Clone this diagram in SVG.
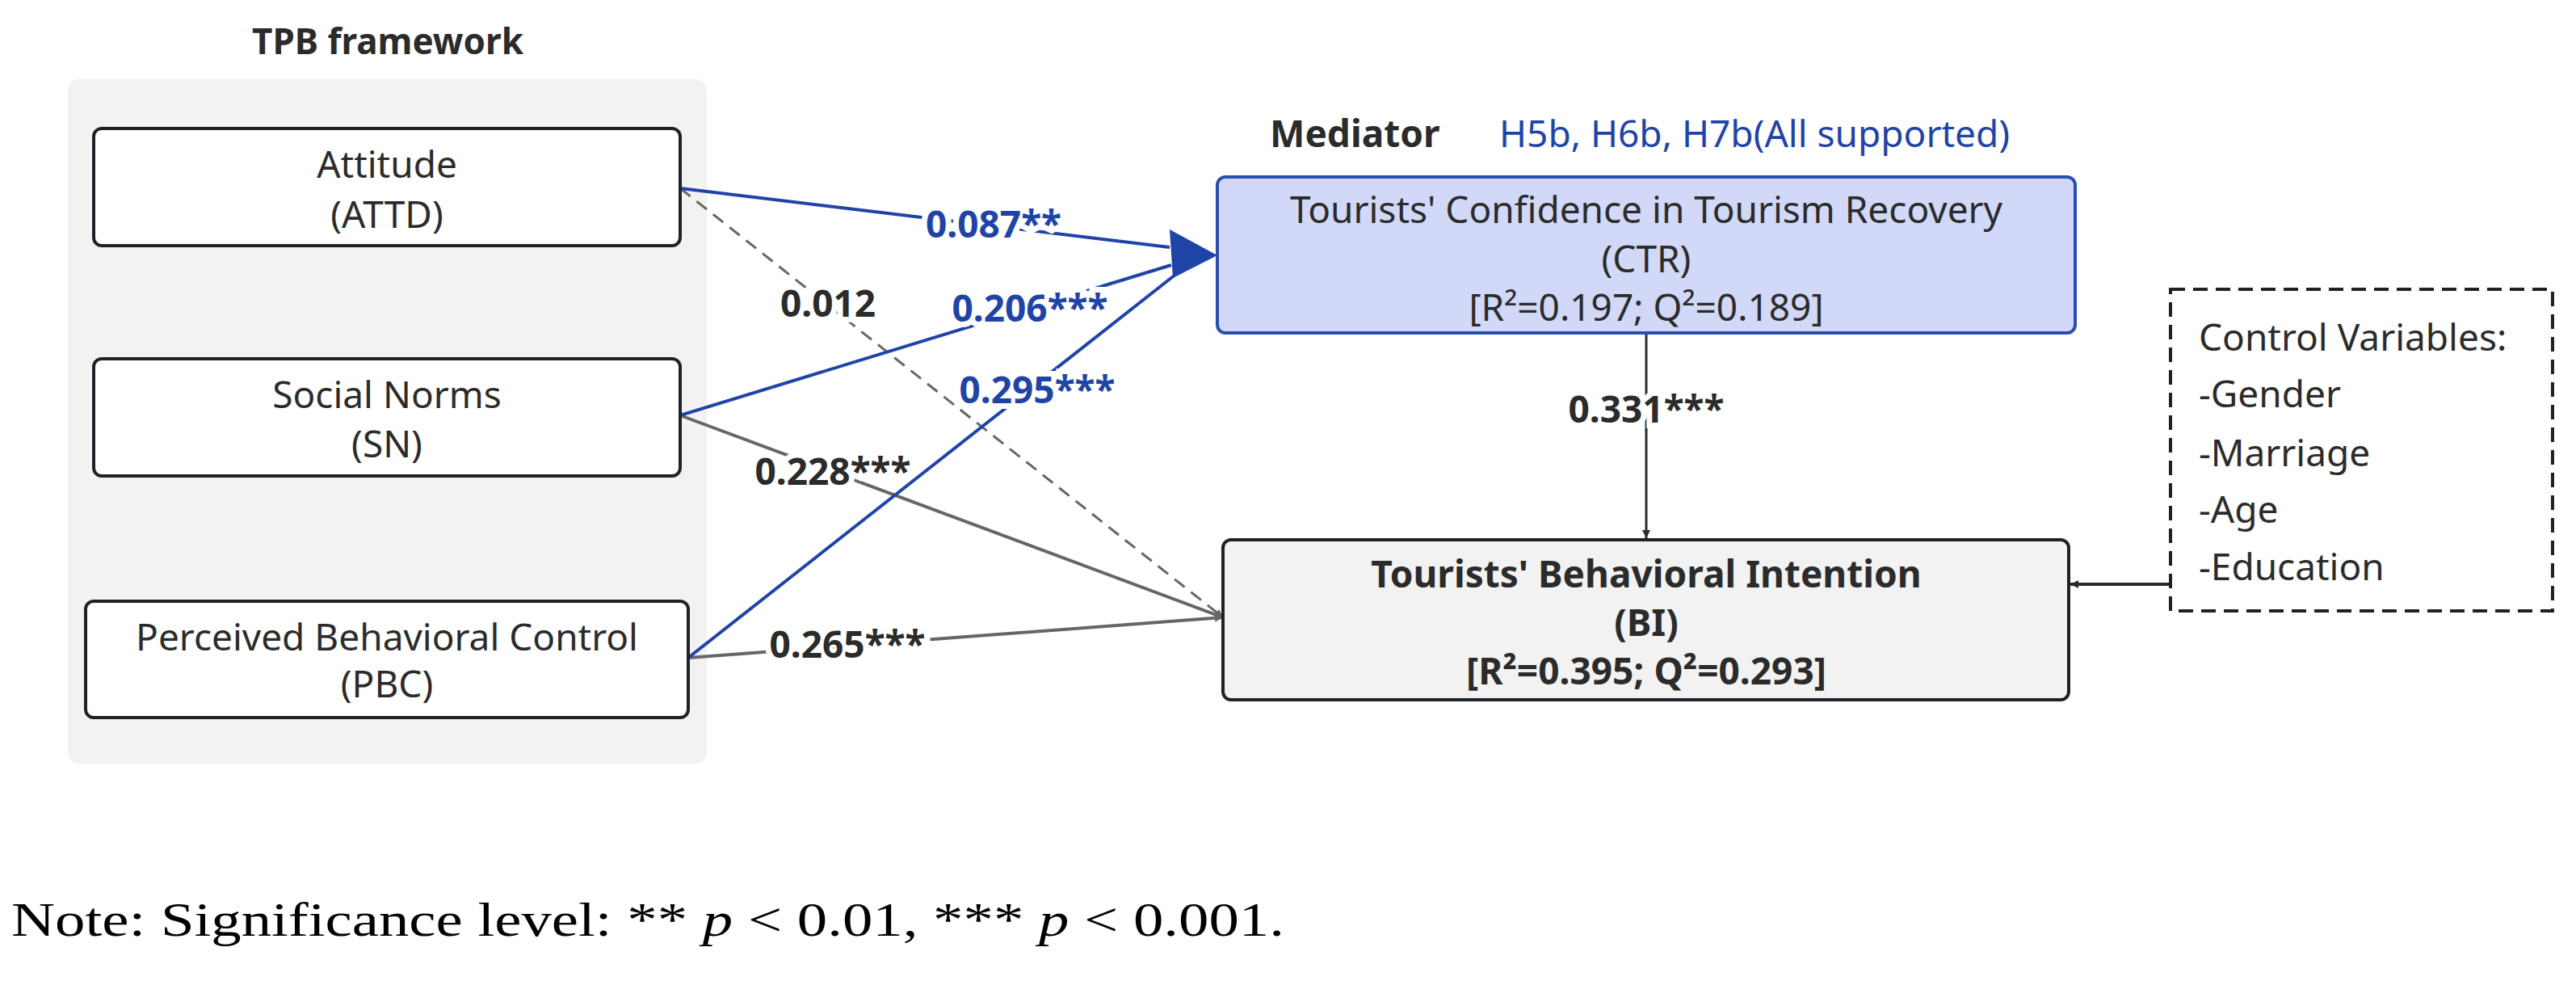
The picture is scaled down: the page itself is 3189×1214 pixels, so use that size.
<svg xmlns="http://www.w3.org/2000/svg" width="3189" height="1214" viewBox="0 0 3189 1214">
<defs>
<style>
text{font-family:"Noto Sans","Open Sans",sans-serif;fill:#2b2b2b}
.n{font-size:46px;text-anchor:middle}
.b{font-weight:bold}
.lab{font-size:46px;font-weight:bold;text-anchor:middle;stroke:#fff;stroke-width:14;paint-order:stroke}
.blue{fill:#1f44a8}
.box{fill:#fff;stroke:#1e2228;stroke-width:4}
</style>
<marker id="ab" viewBox="0 0 10 10" refX="10" refY="5" markerWidth="6" markerHeight="6" markerUnits="userSpaceOnUse" orient="auto"><path d="M0,0L10,5L0,10z" fill="#1f44a8"/></marker>
<marker id="ag" viewBox="0 0 10 10" refX="10" refY="5" markerWidth="10" markerHeight="10" orient="auto" markerUnits="userSpaceOnUse"><path d="M0,0L10,5L0,10z" fill="#666"/></marker>
<marker id="ak" viewBox="0 0 10 10" refX="10" refY="5" markerWidth="10" markerHeight="10" orient="auto" markerUnits="userSpaceOnUse"><path d="M0,0L10,5L0,10z" fill="#2b2b2b"/></marker>
</defs>
<rect x="0" y="0" width="3189" height="1214" fill="#fff"/>
<g id="panel">
<rect x="84" y="98" width="791" height="847" rx="14" fill="#f2f2f2"/>
<text x="480" y="67" class="b" style="font-size:44px;text-anchor:middle">TPB framework</text>
</g>
<g id="connectors">
<line x1="842" y1="233" x2="1514" y2="764" stroke="#666" stroke-width="3" stroke-dasharray="16,10" marker-end="url(#ag)"/>
<line x1="842" y1="514" x2="1514" y2="764" stroke="#666" stroke-width="4" marker-end="url(#ag)"/>
<line x1="852" y1="814" x2="1514" y2="764" stroke="#666" stroke-width="4" marker-end="url(#ag)"/>
<line x1="842" y1="233" x2="1448" y2="306" stroke="#1f44a8" stroke-width="4"/>
<line x1="842" y1="514" x2="1450" y2="328" stroke="#1f44a8" stroke-width="4"/>
<line x1="852" y1="814" x2="1460" y2="336" stroke="#1f44a8" stroke-width="4"/>
<path d="M1507,316 L1448,284 L1452,344 Z" fill="#1f44a8"/>
<line x1="2038" y1="412" x2="2038" y2="666" stroke="#2b2b2b" stroke-width="3" marker-end="url(#ak)"/>
<line x1="2687" y1="723" x2="2563" y2="723" stroke="#2b2b2b" stroke-width="4" marker-end="url(#ak)"/>
<text x="1025" y="392" class="lab">0.012</text>
<text x="1031" y="600" class="lab">0.228***</text>
<text x="1049" y="814" class="lab">0.265***</text>
<text x="1230" y="294" class="lab blue">0.087**</text>
<text x="1275" y="398" class="lab blue">0.206***</text>
<text x="1284" y="499" class="lab blue">0.295***</text>
<text x="2038" y="523" class="lab">0.331***</text>
</g>
<g id="attd"><rect class="box" x="116" y="159" width="726" height="145" rx="10"/>
<text class="n" x="479" y="220">Attitude</text><text class="n" x="479" y="282">(ATTD)</text></g>
<g id="sn"><rect class="box" x="116" y="444" width="726" height="145" rx="10"/>
<text class="n" x="479" y="505">Social Norms</text><text class="n" x="479" y="566">(SN)</text></g>
<g id="pbc"><rect class="box" x="106" y="744" width="746" height="144" rx="10"/>
<text class="n" x="479" y="805">Perceived Behavioral Control</text><text class="n" x="479" y="863">(PBC)</text></g>
<g id="ctr">
<text x="1572" y="182" class="b" style="font-size:46px">Mediator</text>
<text x="1856" y="182" class="blue" style="font-size:46px">H5b, H6b, H7b(All supported)</text>
<rect x="1507" y="219" width="1062" height="193" rx="10" fill="#d1d8f8" stroke="#2a4db0" stroke-width="4"/>
<text class="n" x="2038" y="276">Tourists' Confidence in Tourism Recovery</text>
<text class="n" x="2038" y="337">(CTR)</text>
<text class="n" x="2038" y="397">[R²=0.197; Q²=0.189]</text>
</g>
<g id="bi">
<rect x="1514" y="668" width="1047" height="198" rx="10" fill="#f2f2f2" stroke="#1e2228" stroke-width="4"/>
<text class="n b" x="2038" y="727">Tourists' Behavioral Intention</text>
<text class="n b" x="2038" y="787">(BI)</text>
<text class="n b" x="2038" y="847">[R²=0.395; Q²=0.293]</text>
</g>
<g id="controls">
<rect x="2687" y="358" width="473" height="398" fill="#fff" stroke="#1e2228" stroke-width="4" stroke-dasharray="18,10"/>
<text x="2722" y="434" style="font-size:46px">Control Variables:</text>
<text x="2722" y="504" style="font-size:46px">-Gender</text>
<text x="2722" y="577" style="font-size:46px">-Marriage</text>
<text x="2722" y="647" style="font-size:46px">-Age</text>
<text x="2722" y="718" style="font-size:46px">-Education</text>
</g>
<text x="14" y="1158" style="font-family:'Liberation Serif',serif;font-size:60px;fill:#000" textLength="1576" lengthAdjust="spacingAndGlyphs">Note: Significance level: ** <tspan font-style="italic">p</tspan> &lt; 0.01, *** <tspan font-style="italic">p</tspan> &lt; 0.001.</text>
</svg>
